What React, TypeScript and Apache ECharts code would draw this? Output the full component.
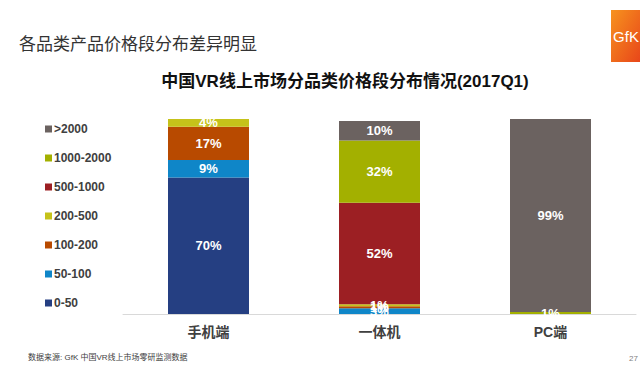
import React, { useEffect, useRef } from "react";
import * as echarts from "echarts";

const categories = ["手机端", "一体机", "PC端"];
const seriesNames = ["0-50", "50-100", "100-200", "200-500", "500-1000", "1000-2000", ">2000"];
const seriesColors = ["#253f82", "#0f86c8", "#b84a00", "#c5c21a", "#9c1f23", "#a3b000", "#6b6260"];
const v0_50 = [70, 0, 0];
const v50_100 = [9, 3, 0];
const v100_200 = [17, 1, 0];
const v200_500 = [4, 1, 0];
const v500_1000 = [0, 52, 0];
const v1000_2000 = [0, 32, 1];
const vOver2000 = [0, 10, 99];
const seriesValues = [v0_50, v50_100, v100_200, v200_500, v500_1000, v1000_2000, vOver2000];

export default function App() {
  const ref = useRef<HTMLDivElement>(null);
  useEffect(() => {
    if (!ref.current) return;
    const chart = echarts.init(ref.current, null, { renderer: "svg" });
    const font = "'Liberation Sans', 'Noto Sans CJK SC', sans-serif";
    chart.setOption({
      animation: false,
      backgroundColor: "#ffffff",
      textStyle: { fontFamily: font },
      title: [
        {
          text: "各品类产品价格段分布差异明显",
          left: 14,
          top: 31,
          textStyle: { fontSize: 17, fontWeight: "normal", color: "#333333", fontFamily: font },
        },
        {
          text: "中国VR线上市场分品类价格段分布情况(2017Q1)",
          left: 340,
          textAlign: "center",
          top: 68,
          textStyle: { fontSize: 17, fontWeight: "bold", color: "#111111", fontFamily: font },
        },
      ],
      legend: {
        orient: "vertical",
        left: 40,
        top: 117,
        itemWidth: 7,
        itemHeight: 7,
        itemGap: 15,
        icon: "rect",
        data: seriesNames.slice().reverse(),
        textStyle: { fontSize: 12, fontWeight: "bold", color: "#404040", lineHeight: 14, padding: [0, 0, 0, -3], fontFamily: font },
      },
      grid: { left: 123, right: 4, top: 119, bottom: 53 },
      xAxis: {
        type: "category",
        data: categories,
        axisLine: { lineStyle: { color: "#d9d9d9" } },
        axisTick: { show: false },
        axisLabel: { fontSize: 14, fontWeight: "bold", color: "#404040", margin: 11, fontFamily: font },
      },
      yAxis: {
        type: "value",
        min: 0,
        max: 100,
        show: false,
        splitLine: { show: false },
      },
      series: seriesNames.map((name, i) => ({
        name,
        type: "bar",
        stack: "total",
        barWidth: 81,
        data: seriesValues[i],
        itemStyle: { color: seriesColors[i] },
        label: {
          show: true,
          position: "inside",
          color: "#ffffff",
          fontSize: 13,
          fontWeight: "bold",
          fontFamily: font,
          formatter: (p: any) => (p.value > 0 ? p.value + "%" : ""),
        },
      })),
      graphic: [
        {
          type: "rect",
          right: 0,
          top: 10,
          shape: { width: 29, height: 52 },
          style: {
            fill: new echarts.graphic.LinearGradient(0, 0, 1, 1, [
              { offset: 0, color: "#f7931e" },
              { offset: 1, color: "#e8461a" },
            ]),
          },
        },
        {
          type: "text",
          x: 626,
          y: 36,
          style: { text: "GfK", fill: "#ffffff", fontSize: 15, fontFamily: font, align: "center", verticalAlign: "middle" },
        },
        {
          type: "text",
          left: 28,
          top: 353,
          style: { text: "数据来源: GfK 中国VR线上市场零研监测数据", fill: "#404040", fontSize: 8, fontFamily: font },
        },
        {
          type: "text",
          right: 2,
          top: 354,
          style: { text: "27", fill: "#7f7f7f", fontSize: 8, fontFamily: font },
        },
      ],
    });
    return () => chart.dispose();
  }, []);
  return <div ref={ref} style={{ width: 640, height: 367, position: "absolute", left: 0, top: 0 }} />;
}
